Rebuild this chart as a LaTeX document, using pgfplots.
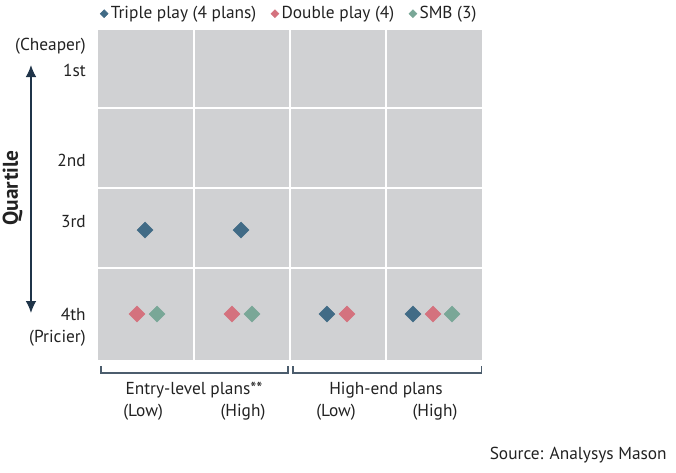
\documentclass[border=0pt]{standalone}
\usepackage{pgfplots}
\pgfplotsset{compat=1.18}
\usetikzlibrary{arrows.meta}
\usepackage{fontspec}
\setmainfont{PT Sans}

\definecolor{cellgray}{HTML}{D0D1D3}
\definecolor{tripleblue}{HTML}{416B86}
\definecolor{doublepink}{HTML}{D4727E}
\definecolor{smbgreen}{HTML}{79A797}
\definecolor{navy}{HTML}{1F3449}
\definecolor{txt}{HTML}{222222}

\begin{document}
\begin{tikzpicture}[font=\fontsize{13}{15}\selectfont, text=txt]
\begin{axis}[
  scale only axis, width=288pt, height=247.5pt,
  xmin=0, xmax=4, ymin=0.5, ymax=4.625, y dir=reverse,
  clip=false,
  axis line style={draw=none},
  major tick length=0pt,
  axis background/.style={fill=cellgray},
  xtick=\empty,
  ytick={0.7,1,2.125,2.9,4.05,4.35},
  yticklabels={(Cheaper),1st,2nd,3rd,4th,(Pricier)},
  yticklabel style={inner sep=0pt, xshift=-9pt, anchor=east},
  extra x ticks={1,2,3}, extra x tick labels={},
  extra y ticks={1.475,2.475,3.475}, extra y tick labels={},
  extra tick style={grid=major, major grid style={white, line width=1.5pt}},
  legend columns=3,
  legend style={draw=none, fill=none, inner sep=0pt, at={(axis cs:0.02,0.17)}, anchor=north west,
    /tikz/every even column/.append style={column sep=9pt}},
  legend image code/.code={\draw[#1, mark size=2.1pt] plot coordinates {(0.1cm,0cm)};},
  mark options={rotate=45},
]
\addplot[only marks, mark=square*, mark size=4.2pt, color=tripleblue]
  coordinates {(0.49,3) (1.49,3) (2.385,4.05) (3.281,4.05)};
\addlegendentry{Triple play (4 plans)}
\addplot[only marks, mark=square*, mark size=4.2pt, color=doublepink]
  coordinates {(0.406,4.05) (1.396,4.05) (2.594,4.05) (3.49,4.05)};
\addlegendentry{Double play (4)}
\addplot[only marks, mark=square*, mark size=4.2pt, color=smbgreen]
  coordinates {(0.615,4.05) (1.604,4.05) (3.688,4.05)};
\addlegendentry{SMB (3)}

% quartile arrow and label
\draw[navy, line width=1.1pt, {Latex[length=9pt,width=8pt]}-{Latex[length=9pt,width=8pt]}]
  (axis cs:-0.698,0.9375) -- (axis cs:-0.698,4.0375);
\node[rotate=90, font=\fontsize{16}{18}\bfseries] at (axis cs:-0.89,2.475) {Quartile};

% brackets
\draw[navy!80, line width=0.8pt] (axis cs:0.031,4.7) |- (axis cs:1.979,4.7875) -- (axis cs:1.979,4.7);
\draw[navy!80, line width=0.8pt] (axis cs:2.031,4.7) |- (axis cs:3.99,4.7875) -- (axis cs:3.99,4.7);

\node at (axis cs:1.0,5.0) {Entry-level plans**};
\node at (axis cs:3.0,5.0) {High-end plans};
\node at (axis cs:0.47,5.275) {(Low)};
\node at (axis cs:1.51,5.275) {(High)};
\node at (axis cs:2.48,5.275) {(Low)};
\node at (axis cs:3.51,5.275) {(High)};
\node[anchor=east, inner sep=0pt] at (axis cs:5.927,5.8125) {Source: Analysys Mason};

\coordinate (bbA) at (axis cs:-1.0208,0.125);
\coordinate (bbB) at (axis cs:6.0208,6.025);
\end{axis}
\pgfresetboundingbox
\useasboundingbox (bbA) rectangle (bbB);
\end{tikzpicture}
\end{document}
